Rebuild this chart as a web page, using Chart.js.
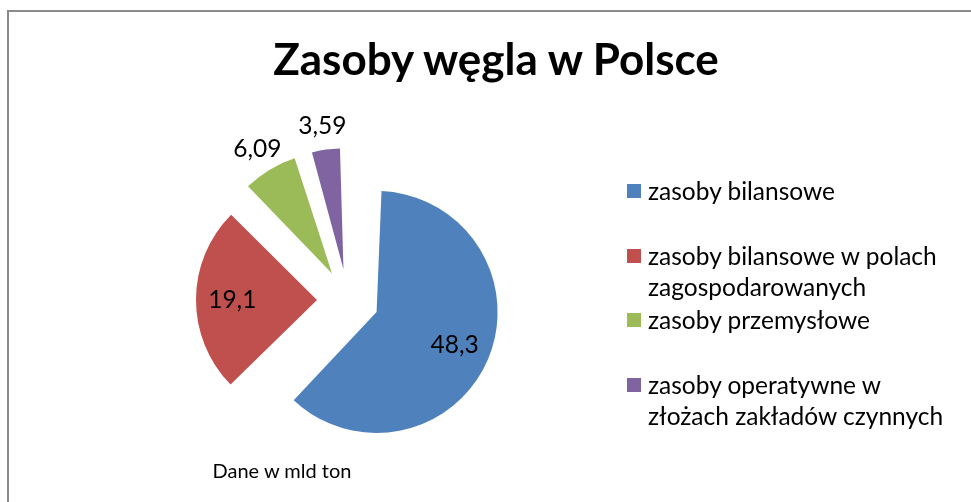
<!DOCTYPE html>
<html>
<head>
<meta charset="utf-8">
<script src="https://cdn.jsdelivr.net/npm/chart.js@4"></script>
<style>
    html, body { margin: 0; padding: 0; background: #fff; }
    body { width: 971px; height: 502px; position: relative; overflow: hidden; font-family: Lato, 'Open Sans', sans-serif; color: #000; }
    #frame { position: absolute; left: 7px; top: 10px; right: -4px; bottom: -4px; border-top: 2px solid #8a8a8a; border-left: 2px solid #8a8a8a; }
    #chart { position: absolute; left: 0; top: 0; }
    #title { position: absolute; left: 0; width: 992px; top: 30px; text-align: center; font-weight: bold; font-size: 44px; line-height: 56px; }
    #note { position: absolute; left: 182px; width: 200px; top: 457px; text-align: center; font-size: 20px; line-height: 26px; }
    #legend { position: absolute; left: 627px; top: 175px; margin: 0; padding: 0; list-style: none; font-size: 24.5px; line-height: 31.5px; }
    #legend li { position: relative; padding-left: 21px; height: 64.5px; white-space: nowrap; }
    #legend li span.box { position: absolute; left: 0; top: 9px; width: 14px; height: 14px; }
</style>
</head>
<body>
<div id="frame"></div>
<canvas id="chart" width="971" height="502"></canvas>
<div id="title"></div>
<ul id="legend"></ul>
<div id="note">Dane w mld ton</div>
<script>
// dane w mld ton
const categories = [
    'zasoby bilansowe',
    'zasoby bilansowe w polach zagospodarowanych',
    'zasoby przemysłowe',
    'zasoby operatywne w złożach zakładów czynnych'
]
const legendLines = [
    ['zasoby bilansowe'],
    ['zasoby bilansowe w polach', 'zagospodarowanych'],
    ['zasoby przemysłowe'],
    ['zasoby operatywne w', 'złożach zakładów czynnych']
]
const values = [48.3, 19.1, 6.09, 3.59]
const valueLabels = ['48,3', '19,1', '6,09', '3,59']
const titleText = 'Zasoby węgla w Polsce'

const colors = ['#4F81BD', '#C0504D', '#9BBB59', '#8064A2']
const explode = 31 // px, przesunięcie każdego wycinka od środka

document.getElementById('title').textContent = titleText

const total = values.reduce((a, b) => a + b, 0)

const legend = document.getElementById('legend')
legendLines.forEach((lines, i) => {
    const li = document.createElement('li')
    const box = document.createElement('span')
    box.className = 'box'
    box.style.background = colors[i]
    li.appendChild(box)
    lines.forEach((line, j) => {
        if (j > 0) li.appendChild(document.createElement('br'))
        li.appendChild(document.createTextNode(line))
    })
    legend.appendChild(li)
})

// chart.js przy offset przesuwa wycinek o offset/4, ale też powiększa promień
// o offset/4 * (1 - sin(min(PI, kąt))) - tu to cofamy, żeby wszystkie wycinki miały ten sam promień
const equalRadiusPlugin = {
    id: 'equalRadius',
    afterDatasetsUpdate(chart) {
        const meta = chart.getDatasetMeta(0)
        const R = meta.controller.outerRadius
        meta.data.forEach(arc => {
            const fix = 1 - Math.sin(Math.min(Math.PI, arc.circumference))
            arc.outerRadius = R - explode * fix
        })
    }
}

const valueLabelPlugin = {
    id: 'valueLabels',
    afterDatasetsDraw(chart) {
        const ctx = chart.ctx
        const meta = chart.getDatasetMeta(0)
        const R = meta.controller.outerRadius
        ctx.save()
        ctx.font = '24.5px Lato, "Open Sans", sans-serif'
        ctx.fillStyle = '#000'
        ctx.textAlign = 'center'
        ctx.textBaseline = 'middle'
        meta.data.forEach((arc, i) => {
            const mid = (arc.startAngle + arc.endAngle) / 2
            const share = values[i] / total
            const dist = explode + R * (share > 0.1 ? 0.7 : 1.2)
            ctx.fillText(valueLabels[i], arc.x + Math.cos(mid) * dist, arc.y + Math.sin(mid) * dist)
        })
        ctx.restore()
    }
}

new Chart(document.getElementById('chart'), {
    type: 'pie',
    data: {
        labels: categories,
        datasets: [{
            data: values,
            backgroundColor: colors,
            borderWidth: 0,
            offset: explode * 4,
            hoverOffset: explode * 4
        }]
    },
    options: {
        responsive: false,
        animation: false,
        events: [],
        layout: {
            padding: {left: 148, right: 423, top: 117, bottom: 19}
        },
        plugins: {
            legend: {display: false},
            title: {display: false},
            tooltip: {enabled: false}
        }
    },
    plugins: [equalRadiusPlugin, valueLabelPlugin]
})
</script>
</body>
</html>
